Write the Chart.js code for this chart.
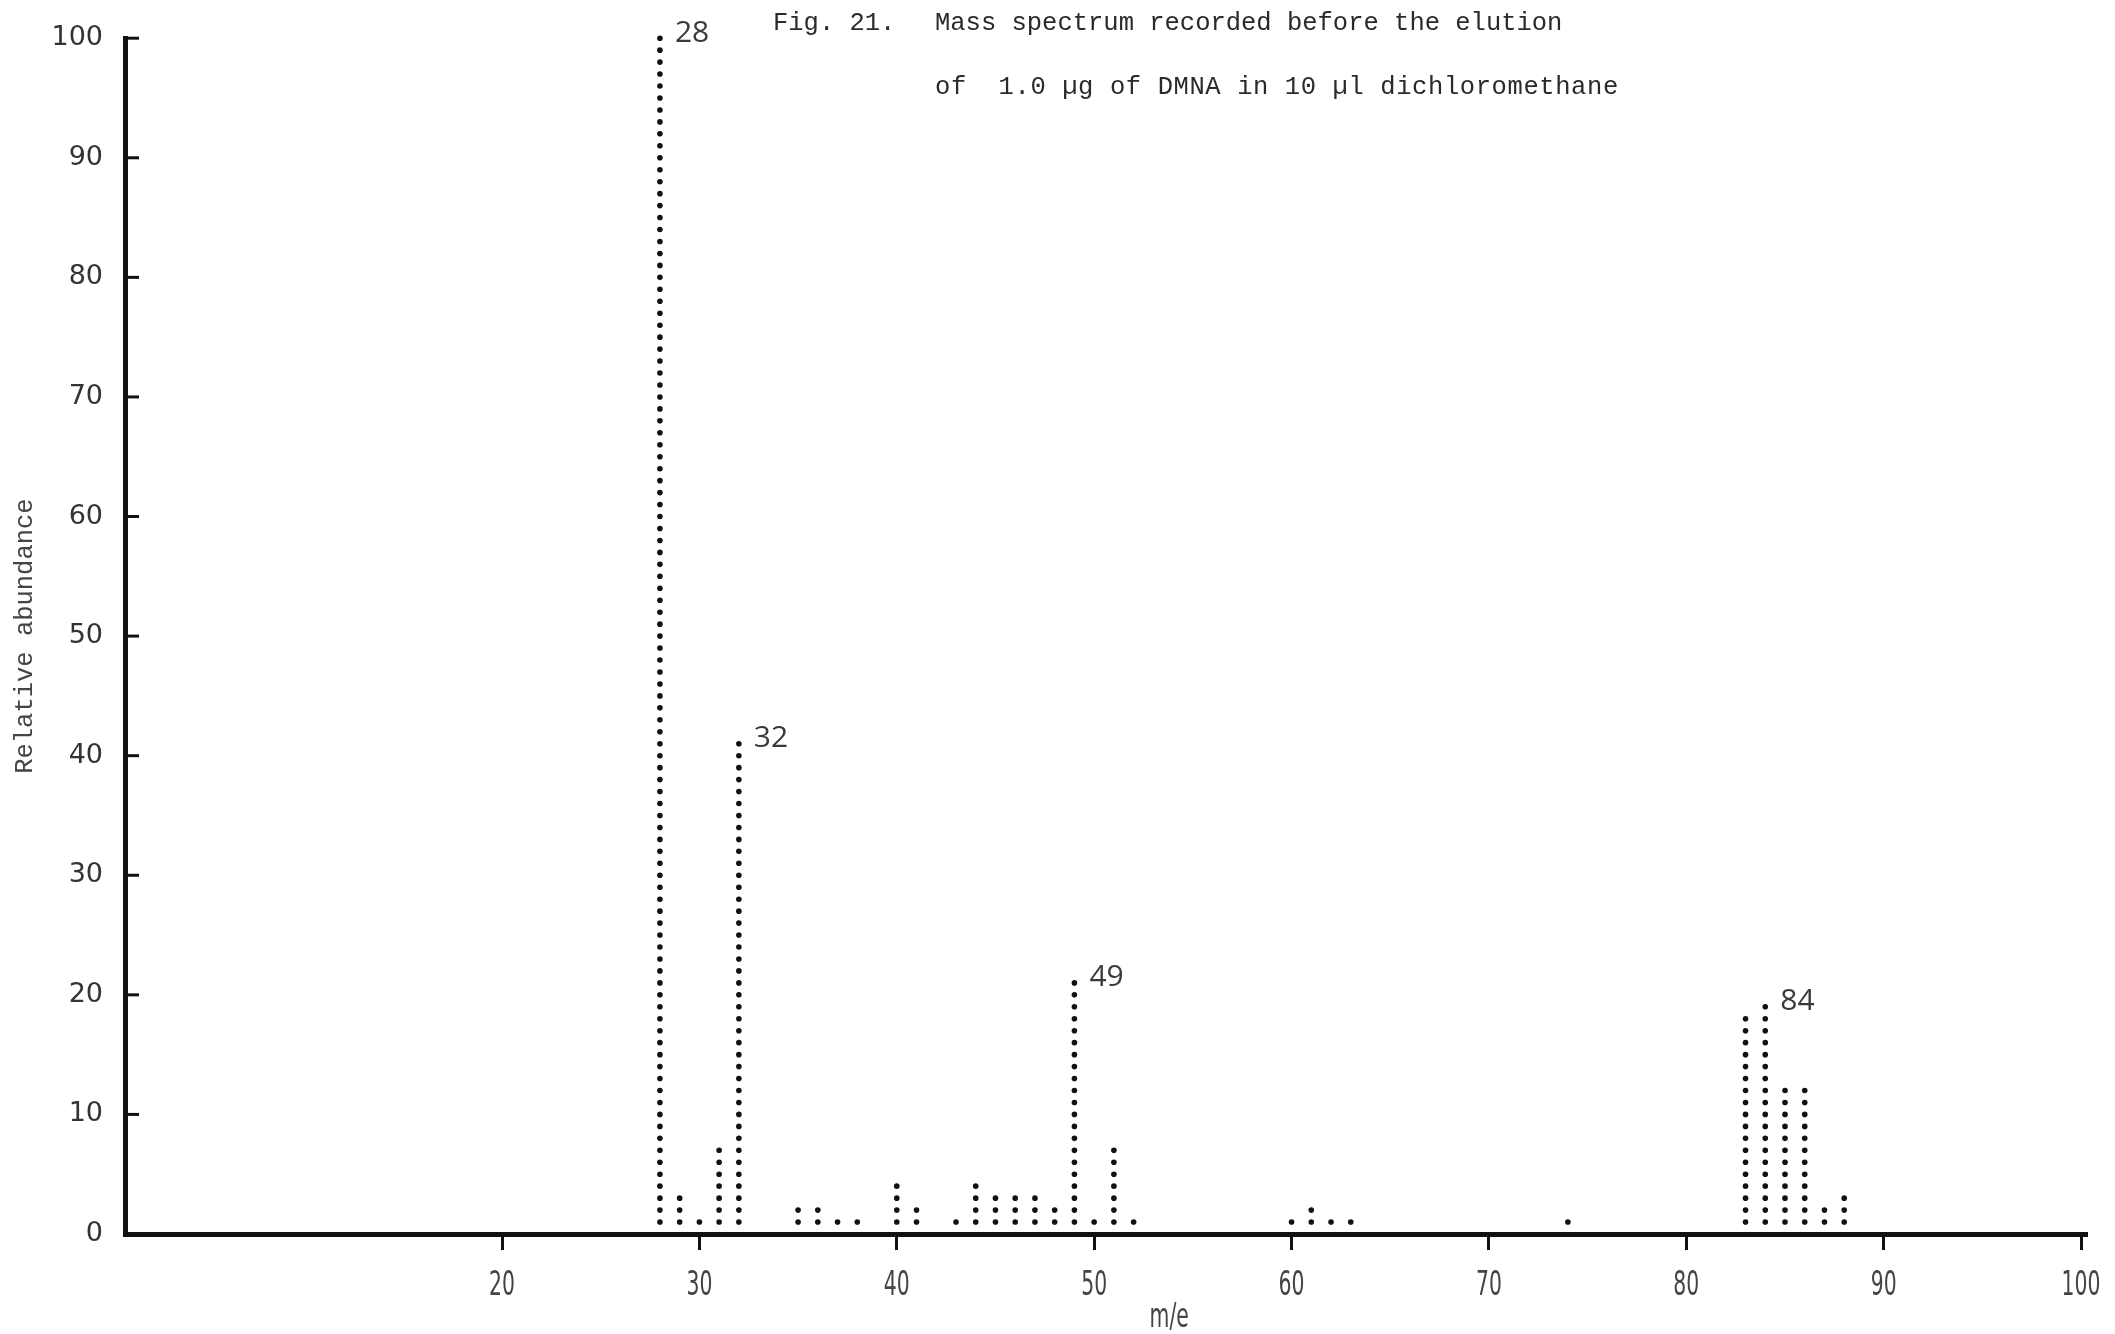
<!DOCTYPE html>
<html>
<head>
<meta charset="utf-8">
<script src="https://cdn.jsdelivr.net/npm/chart.js@4.4.0/dist/chart.umd.min.js"></script>
<style>
    html, body { margin: 0; padding: 0; background: #fff; }
    #wrap { width: 2115px; height: 1334px; position: relative; }
</style>
</head>
<body>
<div id="wrap"><canvas id="spectrumChart"></canvas></div>
<script>
// Mass spectrum (Fig. 21) - peaks
const massToCharge = [28, 29, 30, 31, 32, 35, 36, 37, 38, 40, 41, 43, 44, 45, 46, 47, 48, 49, 50, 51, 52, 60, 61, 62, 63, 74, 83, 84, 85, 86, 87, 88];
const abundance    = [100, 3, 1, 7, 41, 2, 2, 1, 1, 4, 2, 1, 4, 3, 3, 3, 2, 21, 1, 7, 1, 1, 2, 1, 1, 1, 18, 19, 12, 12, 2, 3];
const labelledPeaks = [28, 32, 49, 84];
const xTickValues = [20, 30, 40, 50, 60, 70, 80, 90, 100];
const yTickValues = [0, 10, 20, 30, 40, 50, 60, 70, 80, 90, 100];
const titleLines = ['Mass spectrum recorded before the elution', 'of  1.0 \u00b5g of DMNA in 10 \u00b5l dichloromethane'];
const figLabel = 'Fig. 21.';

// the recorder prints each peak as a column of dots, one dot per percent
const dotPoints = [];
massToCharge.forEach((mz, i) => {
    for (let k = 1; k <= abundance[i]; k++) {
        dotPoints.push({ x: mz, y: k });
    }
});

const typewriter = "'Liberation Mono', 'DejaVu Sans Mono', monospace";
const narrowFont = "34px 'DejaVu Sans', sans-serif";

// draws text squeezed horizontally, like the narrow lettering on the x axis
function drawNarrow(ctx, text, cx, cy) {
    ctx.save();
    ctx.translate(cx, cy);
    ctx.scale(0.6, 1);
    ctx.font = narrowFont;
    ctx.textAlign = 'center';
    ctx.textBaseline = 'middle';
    ctx.fillText(text, 0, 0);
    ctx.restore();
}

// inward ticks on the y axis, peak numbers, figure caption and axis lettering
const annotations = {
    id: 'annotations',
    afterDraw(chart) {
        const ctx = chart.ctx;
        const x = chart.scales.x;
        const y = chart.scales.y;
        ctx.save();

        ctx.strokeStyle = '#111';
        ctx.lineWidth = 3;
        yTickValues.forEach(v => {
            const py = y.getPixelForValue(v);
            ctx.beginPath();
            ctx.moveTo(x.left, py);
            ctx.lineTo(x.left + 14, py);
            ctx.stroke();
        });

        ctx.fillStyle = '#3a3a3a';
        ctx.textBaseline = 'middle';
        ctx.textAlign = 'left';
        ctx.font = "30px 'Open Sans', sans-serif";
        labelledPeaks.forEach(mz => {
            const i = massToCharge.indexOf(mz);
            ctx.fillText(String(mz), x.getPixelForValue(mz) + 15, y.getPixelForValue(abundance[i]) - 5);
        });

        ctx.font = '25.5px ' + typewriter;
        ctx.fillStyle = '#2a2a2a';
        ctx.fillText(figLabel, 773, 23);
        ctx.fillText(titleLines[0], 935, 23);
        ctx.letterSpacing = '0.6px';
        ctx.fillText(titleLines[1], 935, 87);
        ctx.letterSpacing = '0px';

        ctx.fillStyle = '#444';
        xTickValues.forEach(v => {
            drawNarrow(ctx, String(v), x.getPixelForValue(v), 1286);
        });
        drawNarrow(ctx, 'm/e', x.getPixelForValue(53.8), 1318);
        ctx.restore();
    }
};

new Chart(document.getElementById('spectrumChart'), {
    type: 'scatter',
    data: {
        datasets: [{
            label: 'Relative abundance',
            data: dotPoints,
            pointStyle: 'circle',
            pointRadius: 2.8,
            pointBackgroundColor: '#111',
            pointBorderWidth: 0,
            showLine: false,
            clip: false
        }]
    },
    options: {
        responsive: true,
        maintainAspectRatio: false,
        animation: false,
        layout: {
            padding: { top: 32, right: 28, left: 0, bottom: 0 }
        },
        plugins: {
            legend: { display: false },
            tooltip: { enabled: false }
        },
        scales: {
            x: {
                type: 'linear',
                min: 0.9,
                max: 100.3,
                afterBuildTicks: scale => {
                    scale.ticks = xTickValues.map(v => ({ value: v }));
                },
                afterFit: scale => {
                    scale.height = 100;
                    scale.paddingLeft = 0;
                    scale.paddingRight = 0;
                },
                border: { color: '#111', width: 5 },
                grid: {
                    drawOnChartArea: false,
                    drawTicks: true,
                    tickLength: 16,
                    tickWidth: 3,
                    tickColor: '#111'
                },
                ticks: {
                    // labels are drawn by the annotations plugin in a narrow face
                    autoSkip: false,
                    maxRotation: 0,
                    color: 'rgba(0,0,0,0)',
                    font: { size: 12 }
                }
            },
            y: {
                min: 0,
                max: 100,
                afterBuildTicks: scale => {
                    scale.ticks = yTickValues.map(v => ({ value: v }));
                },
                afterFit: scale => {
                    scale.width = 125;
                },
                border: { color: '#111', width: 5 },
                grid: {
                    drawOnChartArea: false,
                    drawTicks: false
                },
                ticks: {
                    padding: 22,
                    color: '#333',
                    font: { family: "'DejaVu Sans', sans-serif", size: 27 }
                },
                title: {
                    display: true,
                    text: 'Relative abundance',
                    color: '#444',
                    padding: { top: 10, bottom: 0 },
                    font: { family: typewriter, size: 25.5 }
                }
            }
        }
    },
    plugins: [annotations]
});
</script>
</body>
</html>
